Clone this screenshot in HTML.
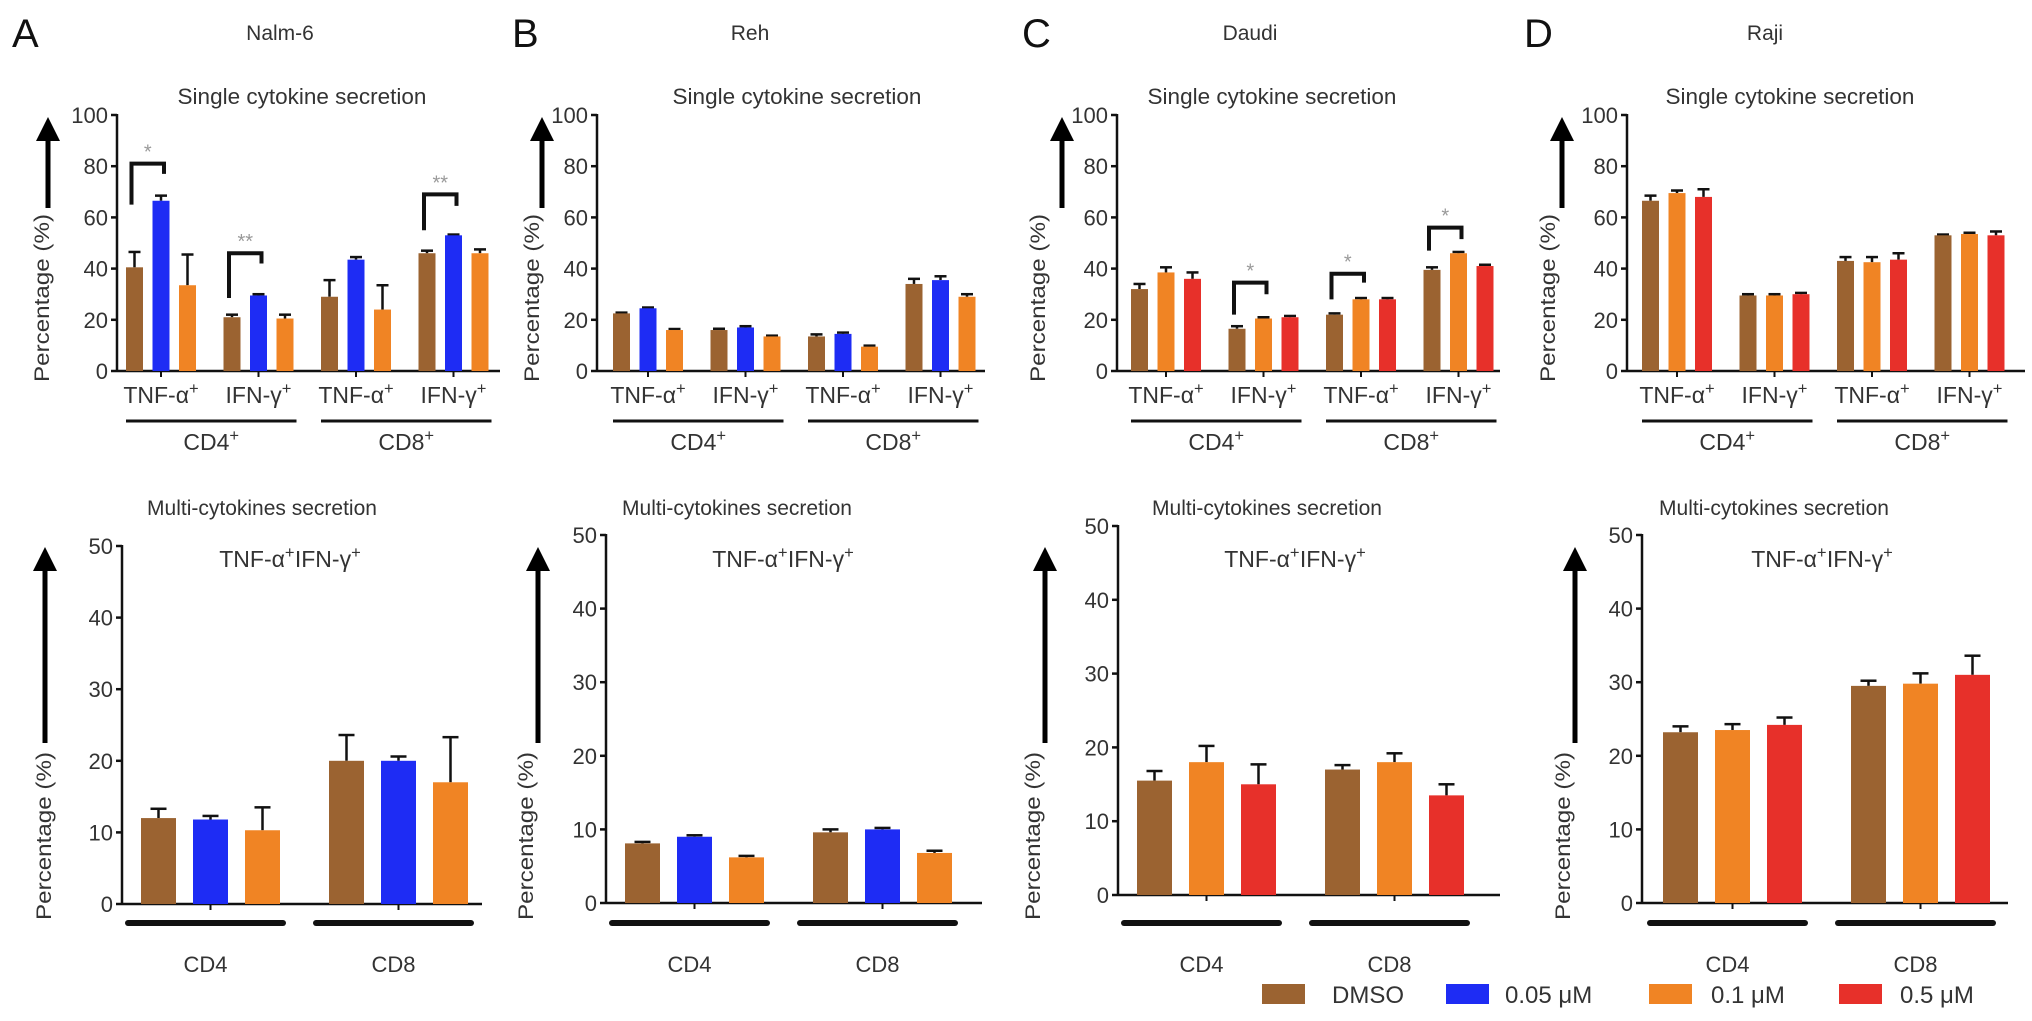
<!DOCTYPE html>
<html><head><meta charset="utf-8"><title>Cytokine secretion</title>
<style>
html,body{margin:0;padding:0;background:#fff;}
svg{display:block;font-family:"Liberation Sans",Arial,sans-serif;}
</style></head>
<body>
<svg id="fig" width="2032" height="1021" viewBox="0 0 2032 1021" xmlns="http://www.w3.org/2000/svg"></svg>
<script>
// ---- data (percentages) ----
const panelLetters = ['A','B','C','D'];
const cellLines = ['Nalm-6','Reh','Daudi','Raji'];
const topCategories = ['TNF-α','IFN-γ','TNF-α','IFN-γ'];
const bottomCategories = ['CD4','CD8'];
const topTicks = [0,20,40,60,80,100];
const bottomTicks = [0,10,20,30,40,50];
const legendLabels = ['DMSO','0.05 μM','0.1 μM','0.5 μM'];
const seriesA = ['DMSO','0.05 μM','0.1 μM'];
const seriesC = ['DMSO','0.1 μM','0.5 μM'];
// top values [category][series]
const topA = [[40.5,66.5,33.5],[21,29.5,20.5],[29,43.5,24],[46,53,46]];
const topAErr = [[46.5,68.5,45.5],[22,30,22],[35.5,44.5,33.5],[47,53.3,47.5]];
const topB = [[22.5,24.5,16],[16,17,13.5],[13.5,14.5,9.5],[34,35.5,29]];
const topBErr = [[22.8,24.8,16.4],[16.5,17.5,13.8],[14.3,15,9.9],[36,37,30]];
const topC = [[32,38.5,36],[16.5,20.5,21],[22,28,28],[39.5,46,41]];
const topCErr = [[34,40.5,38.5],[17.5,21,21.5],[22.5,28.5,28.5],[40.5,46.5,41.5]];
const topD = [[66.5,69.5,68],[29.5,29.5,30],[43,42.5,43.5],[53,53.5,53]];
const topDErr = [[68.5,70.5,71],[30,30,30.5],[44.5,44.5,46],[53.3,54,54.5]];
// bottom values [group][series]
const botA = [[12,11.8,10.3],[20,20,17]];
const botAErr = [[13.3,12.3,13.5],[23.6,20.6,23.3]];
const botB = [[8.1,9,6.2],[9.6,10,6.8]];
const botBErr = [[8.3,9.2,6.4],[10,10.2,7.1]];
const botC = [[15.5,18,15],[17,18,13.5]];
const botCErr = [[16.8,20.2,17.7],[17.6,19.2,15]];
const botD = [[23.2,23.5,24.2],[29.5,29.8,31]];
const botDErr = [[24,24.3,25.2],[30.2,31.2,33.6]];
// significance brackets: [category, topValue, leftValue, rightValue, stars]
const sigA = [[0,81,65,77,'*'],[1,46,28.5,42,'**'],[3,69,55,64.5,'**']];
const sigB = [];
const sigC = [[1,34.5,22,30,'*'],[2,38,28,34.5,'*'],[3,56,47,51.5,'*']];
const sigD = [];

// ---- styling / layout ----
const COL = {'DMSO':'#9b6331','0.05 μM':'#1e2cf4','0.1 μM':'#f08424','0.5 μM':'#e7302a'};
const svg = document.getElementById('fig');
const NS = 'http://www.w3.org/2000/svg';
function mk(tag, attrs, parent){
  const e = document.createElementNS(NS, tag);
  for (const k in attrs) e.setAttribute(k, attrs[k]);
  (parent||svg).appendChild(e);
  return e;
}
function txt(x,y,s,size,anchor,parent,fill){
  const t = mk('text',{x:x,y:y,'font-size':size,'text-anchor':anchor||'middle',fill:fill||'#333'},parent);
  t.textContent = s;
  return t;
}
function supTxt(x,y,parts,size,parent){
  const t = mk('text',{x:x,y:y,'font-size':size,'text-anchor':'middle',fill:'#333'},parent);
  parts.forEach(p=>{
    const a = mk('tspan',{},t); a.textContent = p;
    const b = mk('tspan',{dy:-9,'font-size':size*0.72},t); b.textContent='+';
    const c = mk('tspan',{dy:9,'font-size':1},t); c.textContent=' ';
  });
  return t;
}
function arrow(x,top,bottom,parent){
  mk('line',{x1:x,y1:bottom,x2:x,y2:top+20,stroke:'#000','stroke-width':5},parent);
  mk('polygon',{points:`${x-12},${top+24} ${x+12},${top+24} ${x},${top}`,fill:'#000'},parent);
}
function yTitle(x,cy,parent){
  const t = mk('text',{x:0,y:0,'font-size':21,'text-anchor':'middle',fill:'#333',transform:`translate(${x+7},${cy}) rotate(-90)`,textLength:168,lengthAdjust:'spacingAndGlyphs'},parent);
  t.textContent='Percentage (%)';
  
  
}

const panels = [
  {top:topA,topErr:topAErr,bot:botA,botErr:botAErr,sig:sigA,series:seriesA,
   tx:117,toff:9,tend:500,bx:122,boff:19,bend:482,by0:904,by50:546,
   letterX:12,lineX:280,stX:302,mtX:262,tnX:290,arT:48,arB:45,ptT:49,ptB:51},
  {top:topB,topErr:topBErr,bot:botB,botErr:botBErr,sig:sigB,series:seriesA,
   tx:597,toff:16,tend:985,bx:606,boff:19,bend:982,by0:903,by50:535,
   letterX:512,lineX:750,stX:797,mtX:737,tnX:783,arT:542,arB:538,ptT:539,ptB:533},
  {top:topC,topErr:topCErr,bot:botC,botErr:botCErr,sig:sigC,series:seriesC,
   tx:1117,toff:14,tend:1500,bx:1118,boff:19,bend:1500,by0:895,by50:526,
   letterX:1022,lineX:1250,stX:1272,mtX:1267,tnX:1295,arT:1062,arB:1045,ptT:1045,ptB:1040},
  {top:topD,topErr:topDErr,bot:botD,botErr:botDErr,sig:sigD,series:seriesC,
   tx:1627,toff:15,tend:2025,bx:1642,boff:21,bend:2008,by0:903,by50:535,
   letterX:1524,lineX:1765,stX:1790,mtX:1774,tnX:1822,arT:1562,arB:1575,ptT:1555,ptB:1570}
];

const TY0 = 371, TY100 = 115;
const TBW = 17, TBP = 26.5, TGP = 97.5;
const BBW = 35, BBP = 52, BGP = 188;

panels.forEach((P,pi)=>{
  const g = mk('g',{});
  
  

  const L = txt(P.letterX,47,panelLetters[pi],40,'start',g,'#111');
  
  
  const cl = txt(P.lineX,40,cellLines[pi],21,'middle',g);
  
  

  // ---------- TOP CHART ----------
  const yT = v => TY0 - (v/100)*(TY0-TY100);
  const xT = (c,s) => P.tx + P.toff + c*TGP + s*TBP;
  const top = mk('g',{},g);
  
  
  const st = txt(P.stX,104,'Single cytokine secretion',22.5,'middle',top);
  
  
  arrow(P.arT,117,208,top);
  yTitle(P.ptT-7,298,top);
  mk('line',{x1:P.tx,y1:yT(100)-1,x2:P.tx,y2:TY0+1,stroke:'#111','stroke-width':2.5},top);
  mk('line',{x1:P.tx,y1:TY0,x2:P.tend,y2:TY0,stroke:'#111','stroke-width':2.5},top);
  topTicks.forEach(v=>{
    mk('line',{x1:P.tx-6,y1:yT(v),x2:P.tx,y2:yT(v),stroke:'#111','stroke-width':2.5},top);
    const t = txt(P.tx-9,yT(v)+8,String(v),22,'end',top);
    
    
  });
  P.top.forEach((row,c)=>{
    row.forEach((v,s)=>{
      const x = xT(c,s);
      const e = P.topErr[c][s];
      mk('line',{x1:x+TBW/2,y1:yT(v),x2:x+TBW/2,y2:yT(e),stroke:'#111','stroke-width':2.5},top);
      mk('line',{x1:x+TBW/2-6,y1:yT(e),x2:x+TBW/2+6,y2:yT(e),stroke:'#111','stroke-width':2.5},top);
      const r = mk('rect',{x:x,y:yT(v),width:TBW,height:TY0-yT(v),fill:COL[P.series[s]]},top);
      
      
    });
    const cx = xT(c,1)+TBW/2;
    mk('line',{x1:cx,y1:TY0,x2:cx,y2:TY0+6,stroke:'#111','stroke-width':2},top);
    const cat = supTxt(xT(c,1)+TBW/2,403,[topCategories[c]],23,top);
    
    
  });
  [0,1].forEach(k=>{
    const x1 = xT(2*k,0), x2 = xT(2*k+1,2)+TBW+3;
    const ul = mk('line',{x1:x1,y1:421,x2:x2,y2:421,stroke:'#111','stroke-width':3},top);
    
    
    const gl = supTxt((x1+x2)/2,450,[k===0?'CD4':'CD8'],23,top);
    
    
  });
  P.sig.forEach(sg=>{
    const [c,tv,lv,rv,stars] = sg;
    const xl = xT(c,0)+TBW/2-3, xr = xT(c,1)+TBW/2+3;
    const b = mk('polyline',{points:`${xl},${yT(lv)} ${xl},${yT(tv)} ${xr},${yT(tv)} ${xr},${yT(rv)}`,fill:'none',stroke:'#111','stroke-width':4},top);
    
    
    const s = txt((xl+xr)/2,yT(tv)-5,stars,20,'middle',top,'#999');
    
    
  });

  // ---------- BOTTOM CHART ----------
  const yB = v => P.by0 - (v/50)*(P.by0-P.by50);
  const xB = (gq,s) => P.bx + P.boff + gq*BGP + s*BBP;
  const bot = mk('g',{},g);
  
  
  const mt = txt(P.mtX,515,'Multi-cytokines secretion',21,'middle',bot);
  
  
  const tn = supTxt(P.tnX,567,['TNF-α','IFN-γ'],23,bot);
  
  
  arrow(P.arB,547,743,bot);
  yTitle(P.ptB-7,836,bot);
  mk('line',{x1:P.bx,y1:yB(50)-1,x2:P.bx,y2:P.by0+1,stroke:'#111','stroke-width':2.5},bot);
  mk('line',{x1:P.bx,y1:P.by0,x2:P.bend,y2:P.by0,stroke:'#111','stroke-width':2.5},bot);
  bottomTicks.forEach(v=>{
    mk('line',{x1:P.bx-6,y1:yB(v),x2:P.bx,y2:yB(v),stroke:'#111','stroke-width':2.5},bot);
    const t = txt(P.bx-9,yB(v)+8,String(v),22,'end',bot);
    
    
  });
  P.bot.forEach((row,gq)=>{
    row.forEach((v,s)=>{
      const x = xB(gq,s);
      const e = P.botErr[gq][s];
      mk('line',{x1:x+BBW/2,y1:yB(v),x2:x+BBW/2,y2:yB(e),stroke:'#111','stroke-width':2.5},bot);
      mk('line',{x1:x+BBW/2-8,y1:yB(e),x2:x+BBW/2+8,y2:yB(e),stroke:'#111','stroke-width':2.5},bot);
      const r = mk('rect',{x:x,y:yB(v),width:BBW,height:P.by0-yB(v),fill:COL[P.series[s]]},bot);
      
      
    });
    const cx = xB(gq,1)+BBW/2;
    mk('line',{x1:cx,y1:P.by0,x2:cx,y2:P.by0+6,stroke:'#111','stroke-width':2},bot);
    const x1 = xB(gq,0)-13, x2 = xB(gq,2)+BBW+3;
    const ul = mk('line',{x1:x1,y1:923,x2:x2,y2:923,stroke:'#111','stroke-width':6,'stroke-linecap':'round'},bot);
    
    
    const gl = txt((x1+x2)/2,972,bottomCategories[gq],22,'middle',bot);
    
    
  });
});

// ---------- LEGEND ----------
const lg = mk('g',{});


const legendSwX = [1262,1446,1649,1839];
const legendTxtX = [1332,1505,1711,1900];
legendLabels.forEach((lab,i)=>{
  const e = mk('g',{},lg);
  
  
  mk('rect',{x:legendSwX[i],y:984,width:43,height:20,fill:COL[lab]},e);
  txt(legendTxtX[i],1003,lab,24,'start',e);
});
</script>
</body></html>
